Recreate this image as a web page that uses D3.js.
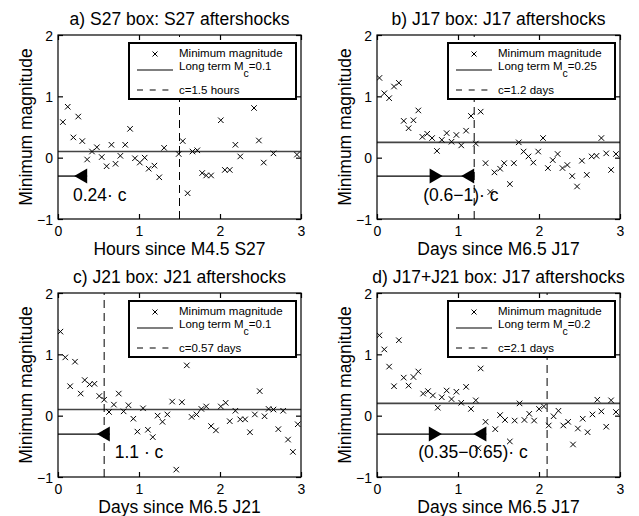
<!DOCTYPE html>
<html>
<head>
<meta charset="utf-8">
<script src="https://cdn.jsdelivr.net/npm/d3@7"></script>
<style>
  body { margin: 0; background: #fff; }
  svg text { font-family: "Liberation Sans", Arial, Helvetica, sans-serif; fill: #000; }
</style>
</head>
<body>
<div id="chart"></div>
<script>
//////////////////////////// data /////////////////////////////////////////

const panelTitles = [
	"a) S27 box: S27 aftershocks",
	"b) J17 box: J17 aftershocks",
	"c) J21 box: J21 aftershocks",
	"d) J17+J21 box: J17 aftershocks"
];
const xLabels = [
	"Hours since M4.5 S27",
	"Days since M6.5 J17",
	"Days since M6.5 J21",
	"Days since M6.5 J17"
];
const yLabel = "Minimum magnitude";
const xTicks = [0, 1, 2, 3];
const yTicks = [-1, 0, 1, 2];

const longTermMc = [0.1, 0.25, 0.1, 0.2];
const cValues = [1.5, 1.2, 0.57, 2.1];
const cLabels = ["c=1.5 hours", "c=1.2 days", "c=0.57 days", "c=2.1 days"];

// arrow annotation (magnitude level, end of line, heads, label)
const arrowLevel = -0.3;
const arrowEnd = [0.36, 1.2, 0.64, 1.35];
const arrowHeads = [
	[{ at: 0.36, dir: "left" }],
	[{ at: 0.65, dir: "right" }, { at: 1.2, dir: "left" }],
	[{ at: 0.64, dir: "left" }],
	[{ at: 0.64, dir: "right" }, { at: 1.35, dir: "left" }]
];
const arrowLabels = ["0.24\u00b7 c", "(0.6\u22121)\u00b7 c", "1.1 \u00b7 c", "(0.35\u22120.65)\u00b7 c"];
const arrowLabelAt = [[0.185, -0.71], [0.57, -0.71], [0.70, -0.69], [0.51, -0.69]];

// a) S27
const timeA = [0.06,0.12,0.19,0.25,0.30,0.36,0.42,0.48,0.54,0.60,0.66,0.71,0.77,0.83,0.89,0.95,1.01,1.07,1.12,1.19,
	1.25,1.31,1.49,1.54,1.60,1.66,1.72,1.78,1.83,1.89,2.01,2.06,2.12,2.19,2.25,2.42,2.48,2.54,2.66,2.95];
const magA = [0.58,0.83,0.33,0.67,0.27,-0.03,0.10,0.17,0.01,-0.14,0.21,-0.10,0.03,0.21,0.47,-0.01,-0.08,0.00,-0.18,-0.13,
	-0.32,0.16,0.06,0.27,-0.58,0.10,0.12,-0.25,-0.29,-0.29,0.61,-0.20,-0.20,0.21,0.02,0.81,0.28,-0.08,0.07,0.05];

// b) J17
const timeB = [0.03,0.09,0.15,0.21,0.27,0.33,0.39,0.45,0.51,0.56,0.62,0.68,0.74,0.80,0.86,0.92,0.98,1.04,1.10,1.16,
	1.22,1.28,1.34,1.40,1.45,1.52,1.57,1.64,1.69,1.75,1.81,1.87,1.93,1.99,2.05,2.11,2.17,2.23,2.29,2.35,
	2.41,2.47,2.53,2.59,2.65,2.71,2.77,2.83,2.89,2.95];
const magB = [1.30,1.05,0.97,1.16,1.22,0.60,0.48,0.61,0.77,0.34,0.39,0.32,0.11,0.29,0.40,0.26,0.37,0.20,0.44,0.68,
	0.23,0.75,-0.09,-0.56,-0.24,-0.18,-0.09,-0.43,-0.09,0.25,0.10,0.02,-0.08,0.10,0.32,-0.17,-0.04,0.06,-0.17,-0.12,
	-0.30,-0.47,-0.05,-0.28,0.02,0.03,0.32,0.07,-0.20,0.06];

// c) J21
const timeC = [0.03,0.09,0.15,0.21,0.28,0.33,0.39,0.45,0.51,0.57,0.63,0.69,0.75,0.81,0.87,0.93,0.98,1.05,1.11,1.17,
	1.23,1.29,1.35,1.41,1.46,1.53,1.59,1.65,1.71,1.77,1.83,1.89,1.95,2.01,2.07,2.12,2.19,2.25,2.31,2.37,
	2.43,2.49,2.55,2.60,2.66,2.72,2.78,2.84,2.90,2.96];
const magC = [1.37,0.95,0.48,0.88,0.36,0.58,0.51,0.52,0.32,0.26,0.06,0.18,0.36,0.07,0.17,-0.05,-0.26,0.12,-0.23,-0.35,
	0.00,-0.10,0.02,0.23,-0.88,0.22,0.82,-0.02,0.02,0.11,0.15,-0.17,-0.24,0.15,0.21,-0.09,0.08,-0.06,-0.06,-0.27,
	0.02,0.40,-0.01,0.11,0.10,-0.22,0.08,-0.39,-0.59,-0.14];

// d) J17+J21 box, J17
const timeD = [0.03,0.09,0.15,0.21,0.27,0.33,0.39,0.45,0.51,0.57,0.63,0.69,0.75,0.80,0.86,0.92,0.98,1.04,1.10,1.16,
	1.22,1.25,1.28,1.34,1.46,1.52,1.58,1.64,1.70,1.76,1.82,1.88,1.94,2.00,2.06,2.12,2.18,2.24,2.30,2.36,
	2.42,2.48,2.54,2.60,2.66,2.72,2.77,2.83,2.89,2.95];
const magD = [1.31,1.08,0.80,0.48,1.23,0.62,0.49,0.63,0.72,0.36,0.40,0.33,0.13,0.30,0.41,0.27,0.39,0.21,0.47,0.11,
	0.25,-0.53,0.77,-0.10,-0.22,0.01,-0.07,-0.42,-0.08,0.20,-0.07,0.03,-0.08,0.11,0.15,-0.16,-0.01,0.08,-0.16,-0.10,
	-0.47,-0.21,-0.05,-0.27,0.02,0.26,0.07,-0.18,0.25,0.06];

const times = [timeA, timeB, timeC, timeD];
const mags = [magA, magB, magC, magD];

//////////////////////////// sizes ////////////////////////////////////////

const width = 639;
const height = 516;
const plotW = 243;
const plotH = 184;
const origins = [[58, 35], [377, 35], [58, 293], [377, 293]];

const big = "17.5px";
const tickFont = "14px";
const legFont = "11.5px";

const svg = d3.select("#chart").append("svg")
	.attr("width", width)
	.attr("height", height);

const xScale = d3.scaleLinear().domain([0, 3]).range([0, plotW]);
const yScale = d3.scaleLinear().domain([-1, 2]).range([plotH, 0]);

const cross = (sel, s) => sel.attr("d", `M${-s},${-s}L${s},${s}M${-s},${s}L${s},${-s}`);

//////////////////////////// panels ///////////////////////////////////////

panelTitles.forEach((title, i) => {
	const g = svg.append("g").attr("transform", `translate(${origins[i][0]},${origins[i][1]})`);
	const pts = times[i].map((t, k) => ({ t, m: mags[i][k] }));

	const clip = "clip" + i;
	g.append("clipPath").attr("id", clip)
		.append("rect").attr("width", plotW).attr("height", plotH);

	const plot = g.append("g").attr("clip-path", `url(#${clip})`);

	// long term Mc
	plot.append("line")
		.attr("x1", 0).attr("x2", plotW)
		.attr("y1", yScale(longTermMc[i])).attr("y2", yScale(longTermMc[i]))
		.attr("stroke", "#444").attr("stroke-width", 1.6);

	// c line
	plot.append("line")
		.attr("x1", xScale(cValues[i])).attr("x2", xScale(cValues[i]))
		.attr("y1", plotH).attr("y2", 0)
		.attr("stroke", "#000").attr("stroke-width", 1)
		.attr("stroke-dasharray", "8,5");

	// markers
	plot.selectAll(".pt").data(pts).join("path")
		.attr("class", "pt")
		.attr("transform", (d) => `translate(${xScale(d.t)},${yScale(d.m)})`)
		.call(cross, 2.75)
		.attr("stroke", "#000").attr("stroke-width", 1).attr("fill", "none");

	// arrow
	const ay = yScale(arrowLevel);
	plot.append("line")
		.attr("x1", xScale(0)).attr("x2", xScale(arrowEnd[i]))
		.attr("y1", ay).attr("y2", ay)
		.attr("stroke", "#000").attr("stroke-width", 1.3);
	plot.selectAll(".head").data(arrowHeads[i]).join("path")
		.attr("class", "head")
		.attr("d", (d) => {
			const bx = xScale(d.at);
			const tx = d.dir === "left" ? bx - 13 : bx + 13;
			return `M${bx},${ay - 7.5}L${bx},${ay + 7.5}L${tx},${ay}Z`;
		})
		.attr("fill", "#000");

	g.append("text")
		.attr("x", xScale(arrowLabelAt[i][0]))
		.attr("y", yScale(arrowLabelAt[i][1]))
		.style("font-size", big)
		.text(arrowLabels[i]);

	// box
	g.append("rect")
		.attr("width", plotW).attr("height", plotH)
		.attr("fill", "none").attr("stroke", "#000").attr("stroke-width", 1.2);

	// axes
	const xAxis = g.append("g").attr("transform", `translate(0,${plotH})`)
		.call(d3.axisBottom(xScale).tickValues(xTicks).tickFormat(d3.format("d"))
			.tickSize(-5).tickSizeOuter(0).tickPadding(7));
	const yAxis = g.append("g")
		.call(d3.axisLeft(yScale).tickValues(yTicks).tickFormat(d3.format("d"))
			.tickSize(-5).tickSizeOuter(0).tickPadding(5));
	const xTop = g.append("g")
		.call(d3.axisTop(xScale).tickValues(xTicks).tickSize(-5).tickSizeOuter(0).tickFormat(""));
	const yRight = g.append("g").attr("transform", `translate(${plotW},0)`)
		.call(d3.axisRight(yScale).tickValues(yTicks).tickSize(-5).tickSizeOuter(0).tickFormat(""));

	[xAxis, yAxis, xTop, yRight].forEach((a) => {
		a.select(".domain").remove();
		a.selectAll("line").attr("stroke", "#000").attr("stroke-width", 1.2);
		a.selectAll("text").style("font-size", tickFont).attr("font-family", null);
	});
	yAxis.selectAll("text").attr("dy", "0.36em");

	// labels
	g.append("text")
		.attr("x", plotW / 2).attr("y", -10)
		.attr("text-anchor", "middle")
		.style("font-size", big)
		.text(title);
	g.append("text")
		.attr("x", plotW / 2).attr("y", plotH + 36)
		.attr("text-anchor", "middle")
		.style("font-size", big)
		.text(xLabels[i]);
	g.append("text")
		.attr("transform", `translate(-26,${plotH / 2}) rotate(-90)`)
		.attr("text-anchor", "middle")
		.style("font-size", big)
		.text(yLabel);

	//////////////////////////// legend //////////////////////////////////
	const leg = g.append("g").attr("transform", "translate(71,8)");
	leg.append("rect")
		.attr("width", 167).attr("height", 56)
		.attr("fill", "#fff").attr("stroke", "#000").attr("stroke-width", 2);
	leg.append("path")
		.attr("transform", "translate(26,11)")
		.call(cross, 2.5)
		.attr("stroke", "#000").attr("stroke-width", 1).attr("fill", "none");
	leg.append("text").attr("x", 50).attr("y", 14)
		.style("font-size", legFont).text("Minimum magnitude");

	leg.append("line").attr("x1", 8).attr("x2", 44).attr("y1", 27).attr("y2", 27)
		.attr("stroke", "#000").attr("stroke-width", 1.2);
	const mc = leg.append("text").attr("x", 50).attr("y", 26.5).style("font-size", legFont);
	mc.append("tspan").text("Long term M");
	mc.append("tspan").attr("dy", 7.5).style("font-size", "10.5px").text("c");
	mc.append("tspan").attr("dy", -7.5).text("=" + longTermMc[i]);

	leg.append("line").attr("x1", 8).attr("x2", 44).attr("y1", 47).attr("y2", 47)
		.attr("stroke", "#000").attr("stroke-width", 1.2)
		.attr("stroke-dasharray", "6,6.7");
	leg.append("text").attr("x", 50).attr("y", 51)
		.style("font-size", legFont).text(cLabels[i]);
});
</script>
</body>
</html>
